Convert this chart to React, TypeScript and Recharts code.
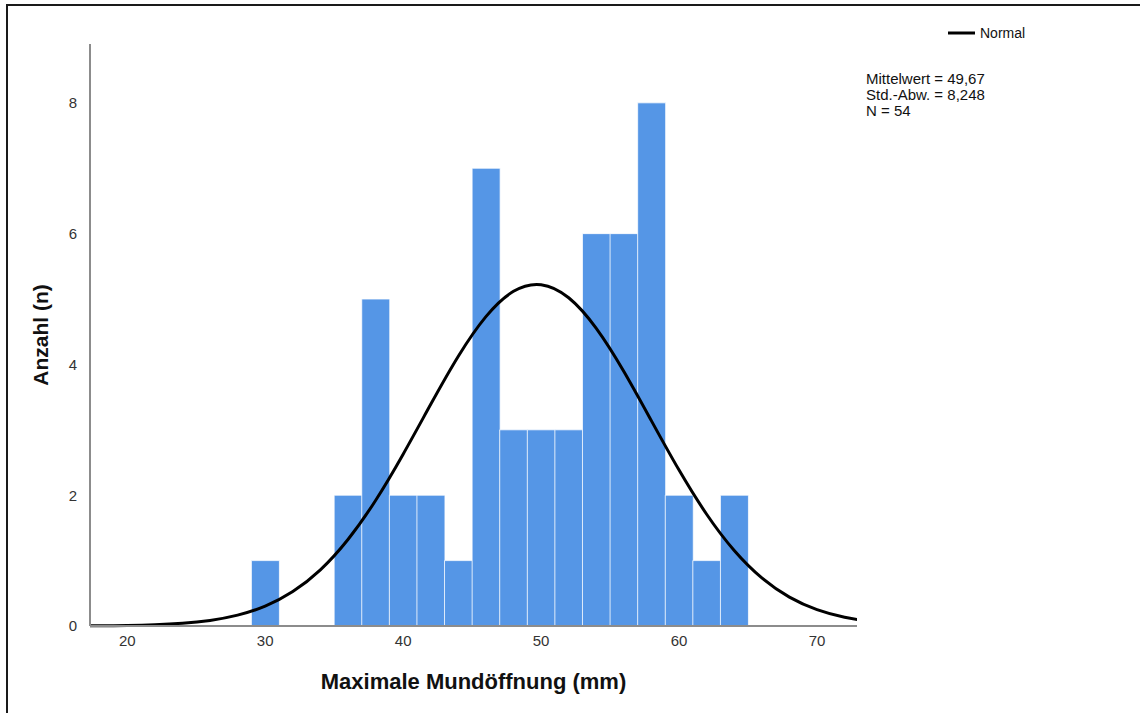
import { ComposedChart, Bar, Line, XAxis, YAxis, Label } from 'recharts';

// histogram bins (width 2 mm), centre of each bin
const binCenters = [30, 36, 38, 40, 42, 44, 46, 48, 50, 52, 54, 56, 58, 60, 62, 64];
const counts = [1, 2, 5, 2, 2, 1, 7, 3, 3, 3, 6, 6, 8, 2, 1, 2];

// normal curve, every 2 mm
const curveX = [16, 18, 20, 22, 24, 26, 28, 30, 32, 34, 36, 38, 40, 42, 44, 46, 48, 50, 52, 54, 56, 58, 60, 62, 64, 66, 68, 70, 72, 74];
const curveY = [
  0.0013, 0.0033, 0.0081, 0.0188, 0.0412, 0.085, 0.166, 0.304, 0.527, 0.859, 1.323, 1.92, 2.628, 3.39, 4.125,
  4.731, 5.118, 5.22, 5.02, 4.552, 3.892, 3.137, 2.384, 1.709, 1.155, 0.736, 0.442, 0.25, 0.134, 0.067,
];

const xTicks = [20, 30, 40, 50, 60, 70];
const yTicks = [0, 2, 4, 6, 8];

const statLines = ['Mittelwert = 49,67', 'Std.-Abw. = 8,248', 'N = 54'];

const table = curveX.map((x, i) => {
  const k = binCenters.indexOf(x);
  return { x, count: k >= 0 ? counts[k] : 0, normal: curveY[i] };
});

const font = 'Arial, "Liberation Sans", sans-serif';
const axisColor = '#8c8c8c';

export default function App() {
  return (
    <div style={{ position: 'absolute', left: 0, top: 0, width: 1140, height: 713, background: '#fff', fontFamily: font }}>
      {/* frame */}
      <div style={{ position: 'absolute', left: 6, top: 4, width: 1140, height: 720, borderLeft: '2px solid #1a1a1a', borderTop: '2px solid #1a1a1a' }} />

      <ComposedChart
        width={1140}
        height={713}
        data={table}
        margin={{ top: 44, right: 283, left: 50, bottom: 57 }}
        barCategoryGap={0}
        barGap={0}
        style={{ position: 'absolute', left: 0, top: 0 }}
      >
        <XAxis
          dataKey="x"
          type="number"
          domain={[17.3, 72.9]}
          allowDataOverflow
          ticks={xTicks}
          height={30}
          tickLine={false}
          tickMargin={3}
          axisLine={{ stroke: axisColor, strokeWidth: 2 }}
          tick={{ fill: '#333', fontSize: 15, fontFamily: font }}
        >
          <Label
            value="Maximale Mundöffnung (mm)"
            position="bottom"
            offset={17}
            style={{ fontSize: 22, fontWeight: 'bold', fill: '#111', fontFamily: font }}
          />
        </XAxis>
        <YAxis
          type="number"
          domain={[0, 8.9]}
          ticks={yTicks}
          width={40}
          tickLine={false}
          tickMargin={7}
          axisLine={{ stroke: axisColor, strokeWidth: 2 }}
          tick={{ fill: '#333', fontSize: 15, fontFamily: font }}
        >
          <Label
            value="Anzahl (n)"
            angle={-90}
            position="left"
            offset={9}
            style={{ fontSize: 21, fontWeight: 'bold', fill: '#111', fontFamily: font, textAnchor: 'middle' }}
          />
        </YAxis>
        <Bar dataKey="count" fill="#5596e6" stroke="#ffffff" strokeWidth={1} strokeOpacity={0.75} isAnimationActive={false} />
        <Line
          dataKey="normal"
          type="natural"
          stroke="#000"
          strokeWidth={3}
          dot={false}
          activeDot={false}
          isAnimationActive={false}
        />
      </ComposedChart>

      {/* legend */}
      <svg style={{ position: 'absolute', left: 946, top: 26 }} width={100} height={16}>
        <line x1={2} y1={7} x2={29} y2={7} stroke="#000" strokeWidth={3} />
        <text x={34} y={12} fontSize={14} fill="#111" fontFamily={font}>Normal</text>
      </svg>

      {/* statistics */}
      <div style={{ position: 'absolute', left: 866, top: 71, fontSize: 15, lineHeight: '16px', color: '#111' }}>
        {statLines.map((s) => (
          <div key={s}>{s}</div>
        ))}
      </div>
    </div>
  );
}
